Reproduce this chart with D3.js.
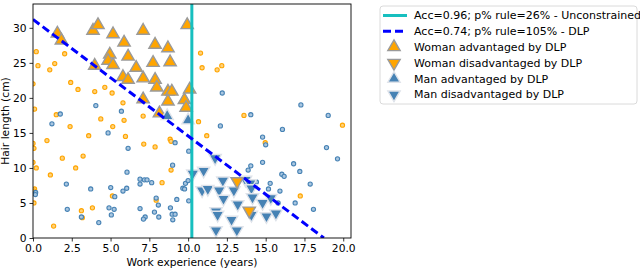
<!DOCTYPE html>
<html>
<head>
<meta charset="utf-8">
<script src="https://d3js.org/d3.v7.min.js"></script>
<style>
body { margin: 0; background: #fff; }
text { font-family: "DejaVu Sans", sans-serif; }
</style>
</head>
<body>
<svg></svg>
<script>
// small dots: [work experience, hair length]
var women = [
[0.21,26.6],[0.32,24.6],[1.08,24.0],[1.4,24.9],[2.04,26.3],[0.0,22.0],[2.43,22.2],[2.9,21.2],
[3.98,20.9],[4.63,21.5],[5.1,20.7],[0.1,18.4],[1.5,17.6],[5.8,19.3],[4.37,17.0],[5.87,16.8],
[2.39,15.9],[5.14,15.9],[7.1,17.4],[10.8,26.4],[10.9,24.3],[11.87,24.0],[12.17,24.6],[10.67,16.6],
[13.6,17.5],[0.9,13.9],[0.0,13.5],[0.06,12.8],[3.59,14.6],[5.96,14.5],[1.89,11.4],[3.23,11.7],
[0.0,10.8],[0.21,10.0],[2.75,10.0],[1.12,9.0],[0.1,7.0],[0.1,6.7],[0.06,5.0],[5.12,6.0],
[3.83,4.3],[3.12,3.9],[3.18,2.9],[1.33,1.7],[7.14,13.4],[7.87,13.0],[8.84,14.1],[8.9,13.8],
[11.2,14.6],[8.9,9.7],[8.32,7.9],[7.94,5.4],[19.95,16.1],[14.97,13.6],[17.23,6.0]
];
var men = [
[1.76,17.7],[4.05,18.9],[5.7,18.1],[1.22,16.3],[12.2,20.7],[14.04,17.6],[17.27,19.0],[19.03,17.5],
[4.84,15.0],[6.13,12.8],[6.06,9.4],[2.15,7.7],[3.72,7.0],[5.01,7.2],[5.8,6.7],[6.04,7.1],
[0.17,6.5],[0.15,6.2],[5.27,5.9],[2.21,4.1],[4.9,4.3],[5.23,4.1],[3.12,3.0],[5.05,3.3],
[4.24,2.2],[12.08,16.0],[9.16,13.6],[10.04,12.4],[9.0,10.4],[6.9,8.4],[6.9,7.7],[7.18,8.3],
[7.35,8.3],[7.65,7.9],[9.83,7.8],[10.0,8.2],[9.66,7.1],[9.77,7.0],[7.94,5.7],[9.27,5.5],
[10.04,5.3],[6.9,4.2],[8.08,4.7],[8.86,4.3],[7.23,3.0],[7.12,2.7],[7.83,3.7],[8.11,3.0],
[8.97,3.4],[9.16,3.4],[9.01,2.6],[16.08,15.5],[14.8,14.4],[15.0,13.3],[18.92,12.9],[19.63,11.3],
[14.8,10.8],[16.8,10.6],[14.04,10.3],[13.87,9.7],[17.2,9.5],[16.04,9.1],[16.19,8.8],[14.4,8.0],
[17.87,7.7],[15.29,7.8],[15.18,7.0],[15.92,6.7],[16.9,5.0],[15.8,5.0],[18.08,4.1]
];

var womanAdv = [
[1.57,29.2],[1.83,28.2],[3.87,29.6],[4.19,30.4],[5.16,29.1],[5.87,27.9],[4.95,26.2],[6.13,25.9],
[4.84,25.3],[5.16,24.7],[3.98,24.6],[6.65,24.3],[5.8,23.0],[6.13,22.6],[7.1,29.6],[7.87,27.6],
[8.7,27.1],[7.74,25.0],[8.84,25.1],[7.1,22.8],[7.87,22.6],[7.98,21.5],[8.7,20.9],[8.95,20.9],
[7.1,19.8],[8.7,19.5],[9.76,19.7],[10.1,21.2],[9.94,30.4],[9.87,18.6],[8.15,17.8]
];
var womanDis = [[13.16,8.1],[13.94,3.9]];
var manAdv = [[8.65,17.4],[10.0,16.8]];
var manDis = [
[11.74,11.4],[10.3,9.2],[11.0,9.6],[10.9,6.8],[11.27,7.0],[12.24,8.2],[12.0,6.8],[12.28,5.6],
[12.95,6.8],[13.2,4.8],[11.8,3.8],[11.9,3.3],[12.8,2.6],[11.8,1.1],[13.14,1.1],[13.7,8.3],
[14.0,7.8],[14.08,7.1],[14.15,5.8],[14.8,5.0],[15.33,5.7],[14.08,3.3],[15.05,3.1],[15.66,3.5]
];

var unconstrainedX = 10.24;
var dlpLine = [[0,31.2],[18.75,0]];

var xTicks = [0,2.5,5,7.5,10,12.5,15,17.5,20];
var yTicks = [0,5,10,15,20,25,30];

var legendLabels = [
"Acc=0.96; p% rule=26% - Unconstrained",
"Acc=0.74; p% rule=105% - DLP",
"Woman advantaged by DLP",
"Woman disadvantaged by DLP",
"Man advantaged by DLP",
"Man disadvantaged by DLP"
];

var W = 640, H = 270;
var mLeft = 33, mTop = 4, pw = 318, ph = 234;
var fs = 10.7;
var orange = "#ffa500", blue = "#4682b4", cyan = "#17bfbf";

var svg = d3.select('svg')
    .attr('width', W)
    .attr('height', H);

var x = d3.scaleLinear().domain([0, 20.5]).range([mLeft, mLeft + pw]);
var y = d3.scaleLinear().domain([0, 33.4]).range([mTop + ph, mTop]);

// clip so dots and lines stay in the axes box
svg.append('clipPath').attr('id', 'clip')
    .append('rect').attr('x', mLeft).attr('y', mTop).attr('width', pw).attr('height', ph);
var g = svg.append('g').attr('clip-path', 'url(#clip)');

g.selectAll('circle.w')
    .data(women)
    .enter()
    .append('circle')
    .attr('cx', function(d){ return x(d[0]) })
    .attr('cy', function(d){ return y(d[1]) })
    .attr('r', 2.1)
    .attr('fill', '#ffd27a')
    .attr('stroke', orange)
    .attr('stroke-width', 1.1);

g.selectAll('circle.m')
    .data(men)
    .enter()
    .append('circle')
    .attr('cx', function(d){ return x(d[0]) })
    .attr('cy', function(d){ return y(d[1]) })
    .attr('r', 2.1)
    .attr('fill', '#a9c6e0')
    .attr('stroke', blue)
    .attr('stroke-width', 1.1);

var tri = d3.symbol().type(d3.symbolTriangle).size(66);

function triangles(data, fill, edge, down) {
    g.selectAll(null)
        .data(data)
        .enter()
        .append('path')
        .attr('d', tri)
        .attr('transform', function(d){
            return 'translate(' + x(d[0]) + ',' + y(d[1]) + ')' + (down ? ' rotate(180)' : '')
        })
        .attr('fill', fill)
        .attr('stroke', edge)
        .attr('stroke-width', 1.4);
}
triangles(womanAdv, orange, '#9a9a9a', false);
triangles(manAdv, blue, '#dfe3ea', false);
triangles(manDis, blue, '#dfe3ea', true);
triangles(womanDis, orange, '#9a9a9a', true);

g.append('line')
    .attr('x1', x(unconstrainedX)).attr('x2', x(unconstrainedX))
    .attr('y1', y(0)).attr('y2', y(33.4))
    .attr('stroke', cyan)
    .attr('stroke-width', 3);

g.append('line')
    .attr('x1', x(dlpLine[0][0])).attr('y1', y(dlpLine[0][1]))
    .attr('x2', x(dlpLine[1][0])).attr('y2', y(dlpLine[1][1]))
    .attr('stroke', '#0000ff')
    .attr('stroke-width', 3)
    .attr('stroke-dasharray', '8,4');

// axes
var xAxis = svg.append('g')
    .attr('transform', 'translate(0,' + (mTop + ph) + ')')
    .call(d3.axisBottom(x).tickValues(xTicks).tickFormat(d3.format('.1f')).tickSize(3.5).tickPadding(3));
var yAxis = svg.append('g')
    .attr('transform', 'translate(' + mLeft + ',0)')
    .call(d3.axisLeft(y).tickValues(yTicks).tickSize(3.5).tickPadding(3));
[xAxis, yAxis].forEach(function(a){
    a.select('.domain').remove();
    a.selectAll('text').attr('font-size', fs).attr('fill', '#000').style('font-family', '"DejaVu Sans", sans-serif');
    a.selectAll('line').attr('stroke', '#000').attr('stroke-width', 0.8);
});

svg.append('rect')
    .attr('x', mLeft).attr('y', mTop).attr('width', pw).attr('height', ph)
    .attr('fill', 'none').attr('stroke', '#000').attr('stroke-width', 0.9);

svg.append('text')
    .attr('x', mLeft + pw / 2).attr('y', 266)
    .attr('text-anchor', 'middle').attr('font-size', fs)
    .text('Work experience (years)');
svg.append('text')
    .attr('transform', 'translate(9,' + (mTop + ph / 2) + ') rotate(-90)')
    .attr('text-anchor', 'middle').attr('font-size', fs)
    .text('Hair length (cm)');

// legend
var lg = svg.append('g');
lg.append('rect')
    .attr('x', 380).attr('y', 6).attr('width', 257).attr('height', 98).attr('rx', 3)
    .attr('fill', '#fff').attr('stroke', '#d0d0d0').attr('stroke-width', 0.8);

var rowY = function(i){ return 15.5 + i * 15.8 };
lg.selectAll('text')
    .data(legendLabels)
    .enter()
    .append('text')
    .attr('x', 414)
    .attr('y', function(d,i){ return rowY(i) })
    .attr('dy', '0.35em')
    .attr('font-size', 11)
    .text(function(d){ return d });

lg.append('line').attr('x1', 383).attr('x2', 407).attr('y1', rowY(0)).attr('y2', rowY(0))
    .attr('stroke', cyan).attr('stroke-width', 3);
lg.append('line').attr('x1', 383).attr('x2', 407).attr('y1', rowY(1)).attr('y2', rowY(1))
    .attr('stroke', '#0000ff').attr('stroke-width', 3).attr('stroke-dasharray', '8,4');

var legTri = [
    [orange, '#9a9a9a', false],
    [orange, '#9a9a9a', true],
    [blue, '#dfe3ea', false],
    [blue, '#dfe3ea', true]
];
lg.selectAll('path')
    .data(legTri)
    .enter()
    .append('path')
    .attr('d', tri)
    .attr('transform', function(d,i){
        return 'translate(394,' + rowY(i + 2) + ')' + (d[2] ? ' rotate(180)' : '')
    })
    .attr('fill', function(d){ return d[0] })
    .attr('stroke', function(d){ return d[1] })
    .attr('stroke-width', 1.4);
</script>
</body>
</html>
